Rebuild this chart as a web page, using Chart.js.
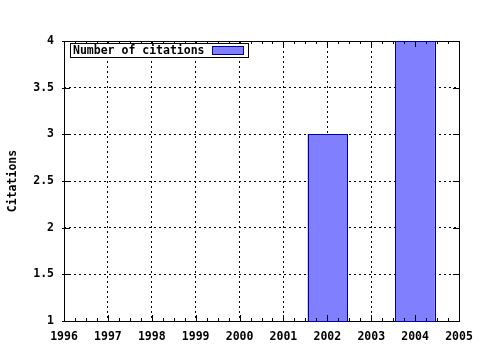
<!DOCTYPE html>
<html>
<head>
<meta charset="utf-8">
<script src="https://cdn.jsdelivr.net/npm/chart.js@4"></script>
<style>
  body { margin: 0; background: #fff; }
  #wrap { width: 480px; height: 350px; }
</style>
</head>
<body>
<div id="wrap"><canvas id="citeChart" width="480" height="350"></canvas></div>
<script>
const years = [2002, 2004];
const citations = [3, 4];
const seriesLabel = 'Number of citations';
const yTitle = 'Citations';

const font = { family: "'DejaVu Sans Mono', monospace", size: 11.5, weight: 'bold' };

// box, tick marks and key, drawn the gnuplot way
const frame = {
  id: 'frame',
  afterDatasetsDraw(chart) {
    const c = chart.ctx, a = chart.chartArea;
    const xs = chart.scales.x, ys = chart.scales.y;
    c.save();
    c.strokeStyle = '#000';
    c.lineWidth = 1;
    c.beginPath();
    for (let v = 1996; v <= 2005.001; v += 0.25) {
      const px = Math.round(xs.getPixelForValue(v)) + 0.5;
      const len = Math.abs(v - Math.round(v)) < 0.01 ? 6 : 3;
      c.moveTo(px, a.bottom); c.lineTo(px, a.bottom - len);
      c.moveTo(px, a.top); c.lineTo(px, a.top + len);
    }
    for (let v = 1; v <= 4.001; v += 0.5) {
      const py = Math.round(ys.getPixelForValue(v)) + 0.5;
      c.moveTo(a.left - 2, py); c.lineTo(a.left + 6, py);
      c.moveTo(a.right, py); c.lineTo(a.right - 6, py);
    }
    c.stroke();
    c.strokeRect(Math.round(a.left) + 0.5, Math.round(a.top) + 0.5,
      Math.round(a.right - a.left), Math.round(a.bottom - a.top));

    // bar outlines
    c.strokeStyle = '#0000a0';
    const base = Math.round(ys.getPixelForValue(ys.min)) + 0.5;
    chart.getDatasetMeta(0).data.forEach(b => {
      const l = Math.round(b.x - b.width / 2) + 0.5, r = Math.round(b.x + b.width / 2) + 0.5;
      const t = Math.round(b.y) + 0.5;
      c.strokeRect(l, t, r - l, base - t);
    });

    // key
    const ds = chart.data.datasets[0];
    c.strokeStyle = '#000';
    c.fillStyle = '#fff';
    c.fillRect(70, 43, 178, 14);
    c.strokeRect(70.5, 43.5, 178, 14);
    c.fillStyle = '#000';
    c.font = 'bold 11.5px "DejaVu Sans Mono"';
    c.textBaseline = 'middle';
    c.fillText(ds.label, 73, 51);
    c.fillStyle = ds.backgroundColor;
    c.fillRect(212, 46, 31, 8);
    c.strokeStyle = '#0000a0';
    c.strokeRect(212.5, 46.5, 31, 8);
    c.restore();
  }
};

new Chart(document.getElementById('citeChart'), {
  type: 'bar',
  data: {
    datasets: [{
      label: seriesLabel,
      data: years.map((y, i) => ({ x: y, y: citations[i] })),
      backgroundColor: '#8080ff',
      borderWidth: 0,
      barPercentage: 0.9,
      categoryPercentage: 1
    }]
  },
  options: {
    responsive: false,
    animation: false,
    layout: { padding: { left: 0, top: 41, right: 21, bottom: 0 } },
    plugins: { legend: { display: false }, tooltip: { enabled: false } },
    scales: {
      x: {
        type: 'linear',
        min: 1996, max: 2005,
        offset: false,
        ticks: { stepSize: 1, color: '#000', font: font, padding: 9, maxRotation: 0, callback: v => String(v) },
        grid: { color: '#000', offset: false, drawTicks: false, lineWidth: 1 },
        border: { display: false, dash: [2, 3] },
        afterFit: s => { s.height = 29; s.paddingLeft = 0; s.paddingRight = 0; }
      },
      y: {
        min: 1, max: 4,
        ticks: { stepSize: 0.5, color: '#000', font: font, padding: 10, callback: v => String(v) },
        grid: { color: '#000', drawTicks: false, lineWidth: 1 },
        border: { display: false, dash: [2, 3] },
        title: { display: true, text: yTitle, color: '#000', font: font, padding: { top: 6, bottom: 0 } },
        afterFit: s => { s.width = 64; s.paddingTop = 0; s.paddingBottom = 0; }
      }
    }
  },
  plugins: [frame]
});
</script>
</body>
</html>
